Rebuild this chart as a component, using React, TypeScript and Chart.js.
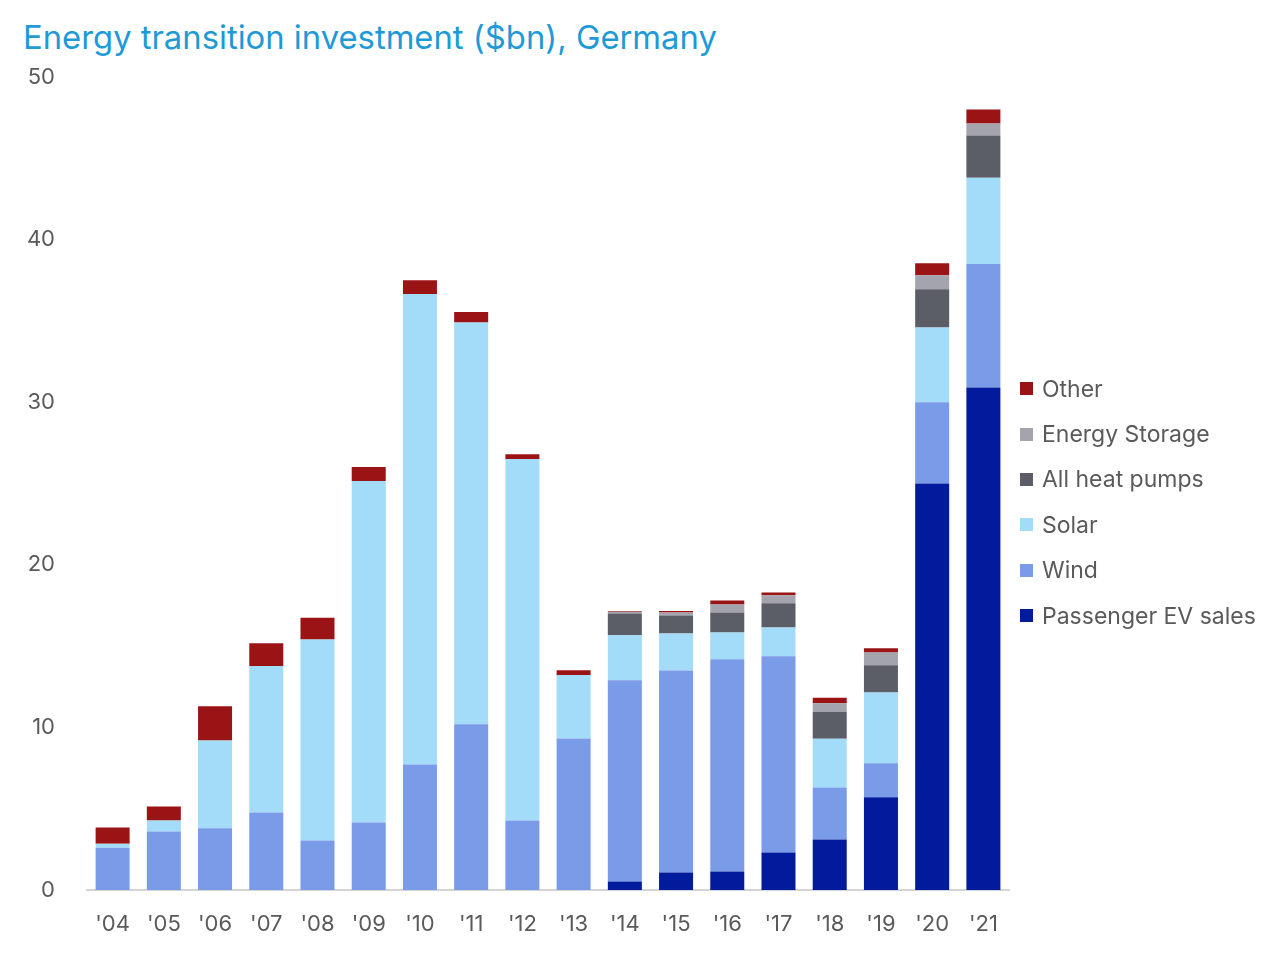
import React, { useEffect, useRef } from "react";
import { Chart, registerables } from "chart.js";

Chart.register(...registerables);

const years = ["'04", "'05", "'06", "'07", "'08", "'09", "'10", "'11", "'12", "'13", "'14", "'15", "'16", "'17", "'18", "'19", "'20", "'21"];

const evSales = [0, 0, 0, 0, 0, 0, 0, 0, 0, 0, 0.53, 1.08, 1.14, 2.31, 3.1, 5.7, 25.0, 30.9];
const wind = [2.6, 3.6, 3.8, 4.77, 3.05, 4.15, 7.72, 10.2, 4.28, 9.32, 12.37, 12.42, 13.05, 12.06, 3.2, 2.1, 5.0, 7.6];
const solar = [0.25, 0.68, 5.4, 9.0, 12.35, 21.0, 28.93, 24.7, 22.22, 3.9, 2.76, 2.28, 1.65, 1.78, 3.0, 4.35, 4.6, 5.3];
const heatPumps = [0, 0, 0, 0, 0, 0, 0, 0, 0, 0, 1.35, 1.1, 1.23, 1.48, 1.66, 1.67, 2.35, 2.6];
const storage = [0, 0, 0, 0, 0, 0, 0, 0, 0, 0, 0.1, 0.18, 0.49, 0.49, 0.52, 0.78, 0.85, 0.74];
const other = [1.0, 0.86, 2.1, 1.4, 1.35, 0.86, 0.85, 0.64, 0.3, 0.3, 0.05, 0.1, 0.25, 0.18, 0.35, 0.27, 0.75, 0.86];

const yTicks = [0, 10, 20, 30, 40, 50];

const seriesNames = ["Passenger EV sales", "Wind", "Solar", "All heat pumps", "Energy Storage", "Other"];
const seriesColors = ["#021a9c", "#7a9be8", "#a3dcf8", "#5b5d67", "#a3a4ad", "#9a1416"];
const seriesData = [evSales, wind, solar, heatPumps, storage, other];

const FONT = "Inter, 'Open Sans', sans-serif";
const TEXT = "#5a5a5a";

export default function App() {
  const canvasRef = useRef<HTMLCanvasElement | null>(null);

  useEffect(() => {
    const canvas = canvasRef.current;
    if (!canvas) return;
    const chart = new Chart(canvas, {
      type: "bar",
      data: {
        labels: years,
        datasets: seriesNames.map((name, i) => ({
          label: name,
          data: seriesData[i],
          backgroundColor: seriesColors[i],
          borderWidth: 0,
          barPercentage: 0.664,
          categoryPercentage: 1,
        })),
      },
      options: {
        animation: false,
        responsive: false,
        maintainAspectRatio: false,
        layout: { padding: { left: 24, top: 77, right: 271, bottom: 21 } },
        plugins: {
          legend: { display: false },
          title: { display: false },
          tooltip: { enabled: false },
        },
        scales: {
          x: {
            stacked: true,
            grid: { display: false },
            border: { display: true, color: "#d4d4d4", width: 2 },
            ticks: {
              color: TEXT,
              font: { family: FONT, size: 22 },
              padding: 13,
              maxRotation: 0,
              autoSkip: false,
            },
            afterFit: (scale: any) => {
              scale.height = 50;
            },
          },
          y: {
            stacked: true,
            min: 0,
            max: 50,
            grid: { display: false },
            border: { display: false },
            afterBuildTicks: (scale: any) => {
              scale.ticks = yTicks.map((v) => ({ value: v }));
            },
            ticks: {
              color: TEXT,
              font: { family: FONT, size: 22 },
              padding: 24,
            },
            afterFit: (scale: any) => {
              scale.width = 63;
            },
          },
        },
      },
    });
    return () => chart.destroy();
  }, []);

  const legendItems = seriesNames.map((n, i) => ({ name: n, color: seriesColors[i] })).reverse();

  return (
    <div style={{ position: "absolute", left: 0, top: 0, width: 1280, height: 961, background: "#fff", fontFamily: FONT }}>
      <div
        style={{
          position: "absolute",
          left: 23,
          top: 17,
          fontSize: 32.8,
          lineHeight: "40px",
          color: "#1f9ad6",
          whiteSpace: "nowrap",
        }}
      >
        Energy transition investment ($bn), Germany
      </div>
      <canvas ref={canvasRef} width={1280} height={961} style={{ position: "absolute", left: 0, top: 0, width: 1280, height: 961 }} />
      <div style={{ position: "absolute", left: 1020, top: 366 }}>
        {legendItems.map((it) => (
          <div key={it.name} style={{ display: "flex", alignItems: "center", height: 45.4, color: TEXT, fontSize: 23, whiteSpace: "nowrap" }}>
            <span style={{ display: "inline-block", width: 13, height: 13, background: it.color, marginRight: 9 }} />
            <span>{it.name}</span>
          </div>
        ))}
      </div>
    </div>
  );
}
